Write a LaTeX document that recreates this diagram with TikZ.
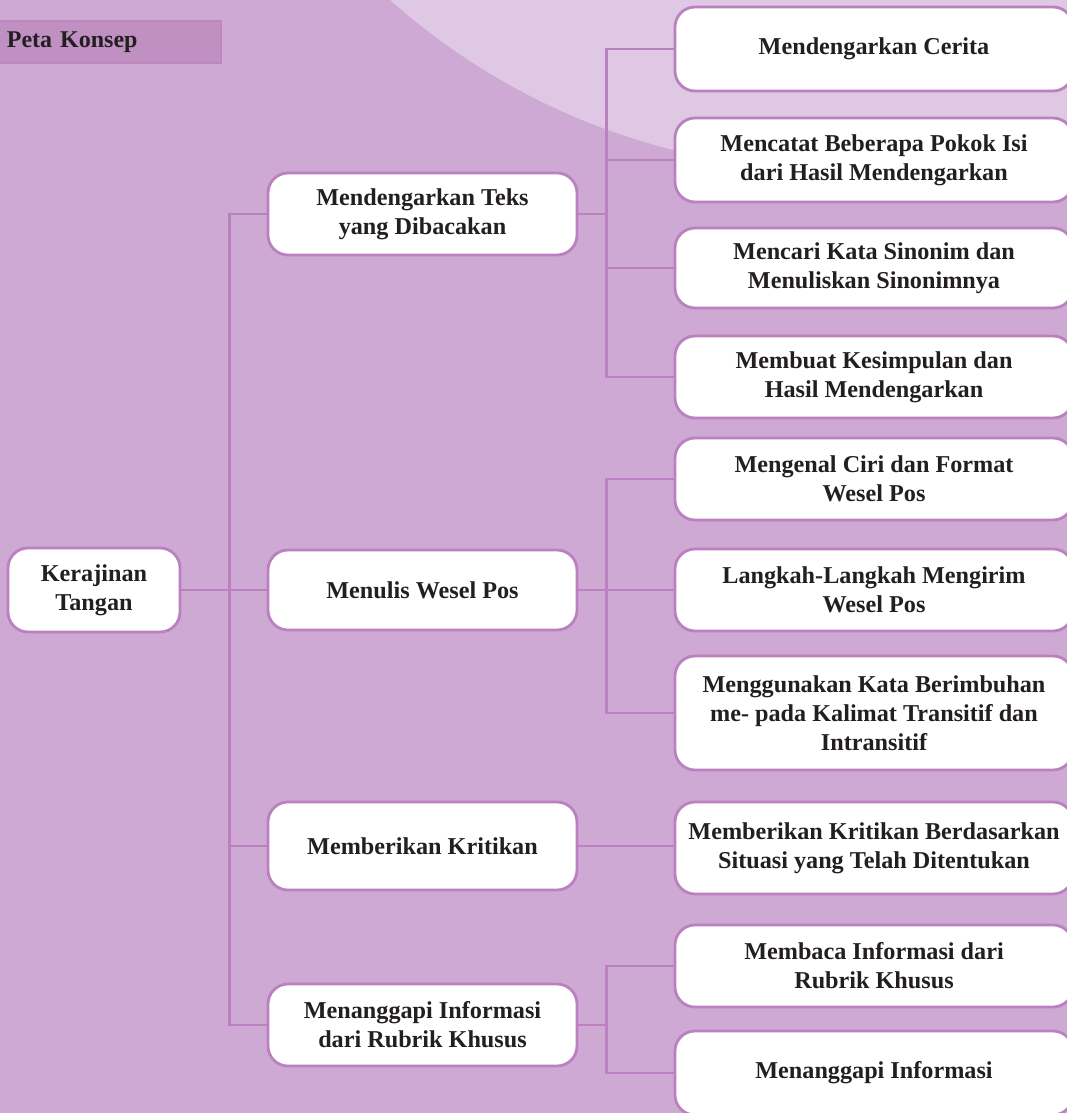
\documentclass[tikz,border=0pt]{standalone}
\usepackage{fontspec}
\setmainfont{Liberation Serif}
\definecolor{bg}{HTML}{CEA9D3}
\definecolor{lightbg}{HTML}{DEC8E4}
\definecolor{lin}{HTML}{BB80BF}
\definecolor{pkfill}{HTML}{C190C2}
\definecolor{pkline}{HTML}{BE87C0}
\definecolor{txt}{HTML}{231F20}
\begin{document}
\begin{tikzpicture}[x=1pt,y=-1pt,
  box/.style={draw=lin, line width=2.8pt, fill=white, rounded corners=20pt,
    align=center, text=txt, inner sep=0pt,
    font=\fontsize{24.2}{29}\selectfont\bfseries},
  rbox/.style={box, minimum width=398pt},
  mbox/.style={box, minimum width=309pt, minimum height=82pt},
  conn/.style={draw=lin, line width=2.7pt}]
\useasboundingbox (0,0) rectangle (1067,1113);
\clip (0,0) rectangle (1067,1113);
\fill[bg] (0,0) rectangle (1067,1113);
\fill[lightbg] (837,-502) circle (672pt);
% Peta Konsep
\node[draw=pkline, line width=1.8pt, fill=pkfill, anchor=north west,
  minimum height=42pt, text width=206pt, inner xsep=8pt, align=left,
  text=txt, font=\fontsize{24}{26}\selectfont\bfseries] (pk) at (-2,20) {Peta Konsep};
% left
\node[box, minimum width=172pt, minimum height=84pt] (k) at (94,590) {Kerajinan\\Tangan};
% middle
\node[mbox] (m1) at (422.5,214) {Mendengarkan Teks\\yang Dibacakan};
\node[mbox, minimum height=80pt] (m2) at (422.5,590) {Menulis Wesel Pos};
\node[mbox, minimum height=88pt] (m3) at (422.5,846) {Memberikan Kritikan};
\node[mbox, minimum height=82pt] (m4) at (422.5,1025) {Menanggapi Informasi\\dari Rubrik Khusus};
% right
\node[rbox, minimum height=84pt] (r1) at (874,49) {Mendengarkan Cerita};
\node[rbox, minimum height=84pt] (r2) at (874,160) {Mencatat Beberapa Pokok Isi\\dari Hasil Mendengarkan};
\node[rbox, minimum height=80pt] (r3) at (874,268) {Mencari Kata Sinonim dan\\Menuliskan Sinonimnya};
\node[rbox, minimum height=82pt] (r4) at (874,377) {Membuat Kesimpulan dan\\Hasil Mendengarkan};
\node[rbox, minimum height=82pt] (r5) at (874,479) {Mengenal Ciri dan Format\\Wesel Pos};
\node[rbox, minimum height=82pt] (r6) at (874,590) {Langkah-Langkah Mengirim\\Wesel Pos};
\node[rbox, minimum height=114pt] (r7) at (874,713) {Menggunakan Kata Berimbuhan\\me- pada Kalimat Transitif dan\\Intransitif};
\node[rbox, minimum height=92pt] (r8) at (874,848) {Memberikan Kritikan Berdasarkan\\Situasi yang Telah Ditentukan};
\node[rbox, minimum height=82pt] (r9) at (874,966) {Membaca Informasi dari\\Rubrik Khusus};
\node[rbox, minimum height=84pt] (r10) at (874,1073) {Menanggapi Informasi};
% connectors
\draw[conn] (k.east) -- (k.east -| m2.west);
\draw[conn] (m1.west) -- ++(-37,0) coordinate (t1) |- (m4.west);
\draw[conn] (m2.west) -- (m2.west -| t1);
\draw[conn] (m3.west) -- (m3.west -| t1);
% branch 1
\draw[conn] (m1.east) -- ++(28,0) coordinate (b1);
\draw[conn] (r1.west) -| (b1) |- (r4.west);
\draw[conn] (r2.west) -- (r2.west -| b1);
\draw[conn] (r3.west) -- (r3.west -| b1);
% branch 2
\draw[conn] (m2.east) -- ++(28,0) coordinate (b2);
\draw[conn] (r5.west) -| (b2) |- (r7.west);
\draw[conn] (r6.west) -- (r6.west -| b2);
% branch 3
\draw[conn] (m3.east) -- (m3.east -| r8.west);
% branch 4
\draw[conn] (m4.east) -- ++(28,0) coordinate (b4);
\draw[conn] (r9.west) -| (b4) |- (r10.west);
\end{tikzpicture}
\end{document}
